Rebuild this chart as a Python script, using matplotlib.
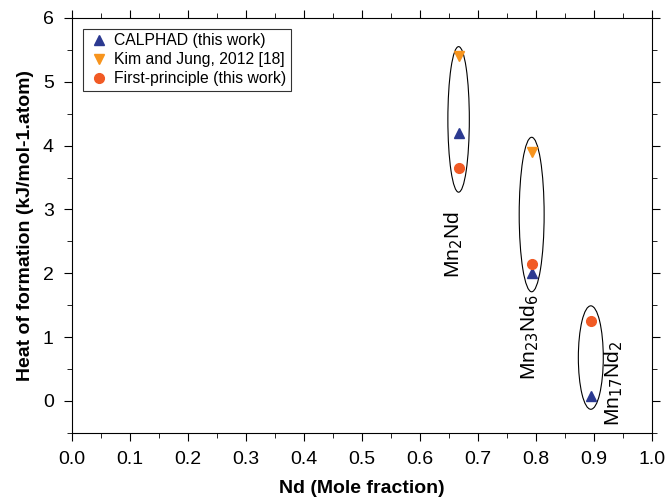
import matplotlib
matplotlib.use("Agg")
import matplotlib.pyplot as plt
from matplotlib.patches import Ellipse
from matplotlib.ticker import MultipleLocator

plt.rcParams['font.family'] = ['Liberation Sans', 'DejaVu Sans']

# compound positions (Nd mole fraction)
x_calphad = [0.667, 0.793, 0.895]
y_calphad = [4.2, 2.0, 0.08]
x_kim = [0.667, 0.793]
y_kim = [5.4, 3.9]
x_fp = [0.667, 0.793, 0.895]
y_fp = [3.65, 2.15, 1.25]

names = ['Mn$_2$Nd', 'Mn$_{23}$Nd$_6$', 'Mn$_{17}$Nd$_2$']
name_x = [0.658, 0.79, 0.935]
name_y = [2.45, 1.0, 0.28]

ell_x = [0.667, 0.793, 0.895]
ell_y = [4.41, 2.92, 0.68]
ell_w = [0.037, 0.043, 0.043]
ell_h = [2.28, 2.42, 1.62]

fig = plt.figure(figsize=(6.65, 4.97), dpi=100)
ax = fig.add_axes([0.108, 0.129, 0.872, 0.835])

ax.plot(x_calphad, y_calphad, '^', color='#2b3990', ms=7, label='CALPHAD (this work)')
ax.plot(x_kim, y_kim, 'v', color='#f7941d', ms=7, label='Kim and Jung, 2012 [18]')
ax.plot(x_fp, y_fp, 'o', color='#f15a24', ms=7, label='First-principle (this work)')

for i in range(3):
    ax.add_patch(Ellipse((ell_x[i], ell_y[i]), ell_w[i], ell_h[i],
                         fill=False, ec='black', lw=0.8))
    ax.text(name_x[i], name_y[i], names[i], rotation=90, fontsize=15,
            ha='center', va='center')

ax.set_xlim(0.0, 1.0)
ax.set_ylim(-0.5, 6)
ax.xaxis.set_major_locator(MultipleLocator(0.1))
ax.xaxis.set_minor_locator(MultipleLocator(0.05))
ax.yaxis.set_major_locator(MultipleLocator(1))
ax.yaxis.set_minor_locator(MultipleLocator(0.5))
ax.tick_params(which='both', direction='out', top=True, right=True,
               labeltop=False, labelright=False, labelsize=14)
ax.tick_params(which='major', length=6, pad=7)
ax.tick_params(which='minor', length=3.5)
ax.set_xticklabels(['%.1f' % v for v in ax.get_xticks()])

ax.set_xlabel('Nd (Mole fraction)', fontsize=14, fontweight='bold', labelpad=9)
ax.set_ylabel('Heat of formation (kJ/mol-1.atom)', fontsize=14, fontweight='bold', labelpad=6)

leg = ax.legend(loc='upper left', fontsize=11.3, frameon=True, fancybox=False,
                edgecolor='black', handletextpad=0.2, borderpad=0.3,
                labelspacing=0.25, handlelength=1.5, bbox_to_anchor=(0.005, 0.993))
leg.get_frame().set_linewidth(0.8)

fig.savefig('out.png', dpi=100)
